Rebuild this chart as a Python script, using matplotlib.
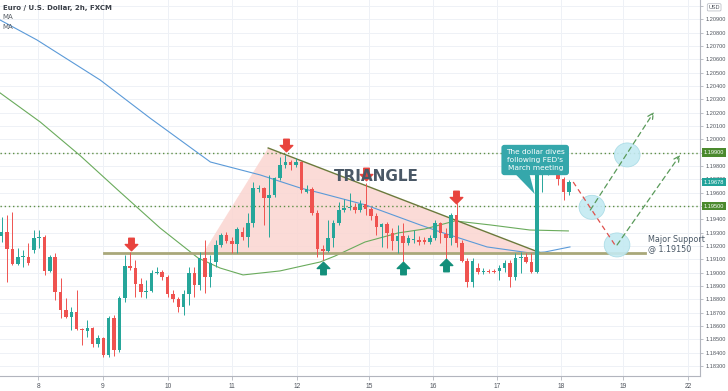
import numpy as np
import matplotlib
matplotlib.use("Agg")
import matplotlib.pyplot as plt
from matplotlib.path import Path
from matplotlib.patches import Polygon, Ellipse
import matplotlib.transforms as mtransforms

# --- data: EUR/USD 2h candles (open, high, low, close) ---
opens = [1.19275, 1.19305, 1.19178, 1.19065, 1.19118, 1.19118, 1.19170, 1.19260, 1.19268, 1.19013,
         1.19118, 1.18855, 1.18720, 1.18668, 1.18705, 1.18578, 1.18563, 1.18585, 1.18465, 1.18510,
         1.18383, 1.18660, 1.18420, 1.18810, 1.19050, 1.19035, 1.18915, 1.18855, 1.18863, 1.18998,
         1.19005, 1.18968, 1.18840, 1.18803, 1.18743, 1.18840, 1.18998, 1.18908, 1.19110, 1.18968,
         1.19080, 1.19208, 1.19283, 1.19238, 1.19215, 1.19305, 1.19268, 1.19373, 1.19628, 1.19635,
         1.19560, 1.19583, 1.19710, 1.19808, 1.19830, 1.19808, 1.19830, 1.19605, 1.19628, 1.19448,
         1.19178, 1.19163, 1.19260, 1.19373, 1.19470, 1.19485, 1.19493, 1.19470, 1.19515, 1.19478,
         1.19425, 1.19343, 1.19365, 1.19298, 1.19238, 1.19275, 1.19223, 1.19245, 1.19245, 1.19245,
         1.19230, 1.19260, 1.19373, 1.19290, 1.19260, 1.19433, 1.19223, 1.19088, 1.18930, 1.19035,
         1.19005, 1.19013, 1.19013, 1.19013, 1.19035, 1.19073, 1.18968, 1.19110, 1.19118, 1.19080,
         1.19005, 1.19755, 1.19770, 1.19778, 1.19845, 1.19703, 1.19605]
highs = [1.19418, 1.19433, 1.19455, 1.19185, 1.19170, 1.19223, 1.19320, 1.19320, 1.19283, 1.19133,
         1.19148, 1.18960, 1.18810, 1.18743, 1.18870, 1.18585, 1.18645, 1.18590, 1.18533, 1.18518,
         1.18675, 1.18683, 1.18825, 1.19133, 1.19155, 1.19095, 1.18960, 1.18945, 1.19020, 1.19043,
         1.19020, 1.18983, 1.18870, 1.18818, 1.18870, 1.19043, 1.19043, 1.19155, 1.19245, 1.19133,
         1.19245, 1.19298, 1.19305, 1.19268, 1.19343, 1.19343, 1.19448, 1.19680, 1.19658, 1.19643,
         1.19733, 1.19718, 1.19868, 1.19883, 1.19845, 1.19860, 1.19838, 1.19658, 1.19640, 1.19470,
         1.19208, 1.19395, 1.19395, 1.19530, 1.19553, 1.19598, 1.19523, 1.19545, 1.19673, 1.19493,
         1.19448, 1.19373, 1.19380, 1.19335, 1.19358, 1.19373, 1.19283, 1.19320, 1.19275, 1.19268,
         1.19283, 1.19395, 1.19380, 1.19335, 1.19448, 1.19523, 1.19245, 1.19110, 1.19110, 1.19073,
         1.19035, 1.19028, 1.19028, 1.19058, 1.19095, 1.19095, 1.19148, 1.19155, 1.19148, 1.19148,
         1.19845, 1.19868, 1.19860, 1.19883, 1.19883, 1.19718, 1.19695]
lows = [1.19230, 1.18930, 1.19058, 1.19058, 1.19043, 1.19058, 1.19148, 1.19185, 1.18983, 1.19005,
        1.18795, 1.18660, 1.18660, 1.18570, 1.18570, 1.18458, 1.18518, 1.18443, 1.18443, 1.18368,
        1.18368, 1.18375, 1.18405, 1.18780, 1.19020, 1.18818, 1.18818, 1.18810, 1.18855, 1.18990,
        1.18945, 1.18818, 1.18780, 1.18705, 1.18683, 1.18758, 1.18818, 1.18870, 1.18848, 1.18893,
        1.19043, 1.19193, 1.19223, 1.19148, 1.19148, 1.19245, 1.19193, 1.19343, 1.19605, 1.19358,
        1.19268, 1.19568, 1.19695, 1.19785, 1.19770, 1.19793, 1.19598, 1.19600, 1.19433, 1.19118,
        1.19095, 1.19155, 1.19193, 1.19358, 1.19455, 1.19470, 1.19448, 1.19455, 1.19433, 1.19395,
        1.19283, 1.19193, 1.19185, 1.19170, 1.19148, 1.19080, 1.19208, 1.19223, 1.19208, 1.19215,
        1.19215, 1.19245, 1.19223, 1.19095, 1.19208, 1.19193, 1.19080, 1.18893, 1.18893, 1.18990,
        1.18990, 1.18998, 1.18998, 1.18945, 1.19005, 1.18893, 1.18945, 1.18998, 1.19073, 1.18998,
        1.18998, 1.19605, 1.19733, 1.19770, 1.19658, 1.19545, 1.19583]
closes = [1.19305, 1.19178, 1.19065, 1.19118, 1.19125, 1.19073, 1.19260, 1.19268, 1.19013, 1.19118,
          1.18855, 1.18720, 1.18668, 1.18705, 1.18578, 1.18570, 1.18585, 1.18465, 1.18510, 1.18383,
          1.18660, 1.18420, 1.18810, 1.19050, 1.19035, 1.18915, 1.18855, 1.18863, 1.18998, 1.19005,
          1.18968, 1.18840, 1.18803, 1.18743, 1.18840, 1.18998, 1.18908, 1.19110, 1.18968, 1.19073,
          1.19208, 1.19283, 1.19238, 1.19215, 1.19328, 1.19268, 1.19373, 1.19635, 1.19635, 1.19560,
          1.19583, 1.19710, 1.19808, 1.19830, 1.19808, 1.19830, 1.19620, 1.19628, 1.19448, 1.19178,
          1.19163, 1.19260, 1.19373, 1.19470, 1.19485, 1.19493, 1.19470, 1.19515, 1.19478, 1.19425,
          1.19343, 1.19365, 1.19298, 1.19238, 1.19275, 1.19223, 1.19260, 1.19253, 1.19230, 1.19230,
          1.19260, 1.19373, 1.19298, 1.19260, 1.19433, 1.19223, 1.19088, 1.18930, 1.19088, 1.19005,
          1.19013, 1.19005, 1.19005, 1.19035, 1.19073, 1.18968, 1.19110, 1.19118, 1.19080, 1.19005,
          1.19755, 1.19785, 1.19778, 1.19845, 1.19703, 1.19605, 1.19678]

# moving averages, read at a few bar positions
ma_slow_x = [-0.3, 6.6, 18.4, 27.7, 39.0, 48.3, 55.8, 59.5, 68.0, 78.2, 82.0, 90.7, 98.7, 101.5, 106.2]
ma_slow_y = [1.20895, 1.20745, 1.20445, 1.20160, 1.19830, 1.19733, 1.19635, 1.19598, 1.19508,
             1.19358, 1.19305, 1.19193, 1.19148, 1.19155, 1.19193]
ma_fast_x = [-0.3, 7.2, 14.6, 21.7, 29.6, 36.7, 40.8, 45.1, 52.0, 59.5, 62.3, 67.9, 74.1, 79.1,
             84.7, 91.3, 98.7, 105.9]
ma_fast_y = [1.20348, 1.20130, 1.19880, 1.19620, 1.19335, 1.19110, 1.19035, 1.18983, 1.19013,
             1.19080, 1.19125, 1.19230, 1.19298, 1.19328, 1.19388, 1.19358, 1.19320, 1.19313]

# day labels on the time axis
day_labels = ['8', '9', '10', '11', '12', '15', '16', '17', '18', '19', '22']
day_pos = [6.8, 18.9, 31.1, 43.0, 55.2, 68.6, 80.6, 92.6, 104.5, 116.1, 128.3]

support = 1.19150
resistance_hi = 1.19900
resistance_lo = 1.19500
last_price = 1.19678

# triangle pattern (bar, price)
tri_x = [37.7, 49.8, 100.6]
tri_y = [1.19150, 1.19935, 1.19150]

red_arrows_x = [24.1, 53.1, 68.1, 84.9]
red_arrows_y = [1.19215, 1.19960, 1.19740, 1.19568]
green_arrows_x = [60.1, 75.0, 83.1]
green_arrows_y = [1.19035, 1.19035, 1.19058]

# projected path
red_path_x = [106.8, 114.6]
red_path_y = [1.19680, 1.19208]
green_path1_x = [110.0, 121.9]
green_path1_y = [1.19470, 1.20205]
green_path2_x = [115.0, 126.8]
green_path2_y = [1.19208, 1.19883]
zones_x = [110.3, 116.9, 115.0]
zones_y = [1.19490, 1.19883, 1.19208]

UP = '#26a69a'
DOWN = '#ef5350'
TXT = '#4a5866'
AXFONT = ['Liberation Sans Narrow', 'Liberation Sans', 'DejaVu Sans']

fig = plt.figure(figsize=(7.28, 3.91), dpi=100)
ax = fig.add_axes([0, 15 / 391, 700 / 728, 376 / 391])
ax.set_xlim(-0.32, 130.5)
ax.set_ylim(1.18225, 1.21045)

# grid
for p in np.arange(1.183, 1.2105, 0.001):
    ax.axhline(p, color='#eef1f6', lw=0.7, zorder=0)
for d in day_pos:
    ax.axvline(d, color='#eef1f6', lw=0.7, zorder=0)

# triangle
ax.add_patch(Polygon(list(zip(tri_x, tri_y)), closed=True, facecolor='#fbd3ce',
                     edgecolor='none', alpha=0.8, zorder=1))
ax.plot(tri_x[1:], tri_y[1:], color='#6b7a3c', lw=1.0, zorder=3)
ax.plot([19.1, 120.2], [support, support], color='#a9a87a', lw=2.0, zorder=3)

# horizontal levels
ax.axhline(resistance_hi, color='#5f8f45', lw=1.0, ls=(0, (1, 2)), zorder=2)
ax.axhline(resistance_lo, color='#5f8f45', lw=1.0, ls=(0, (1, 2)), zorder=2)

# moving averages
ax.plot(ma_slow_x, ma_slow_y, color='#5b9ad8', lw=0.8, zorder=2)
ax.plot(ma_fast_x, ma_fast_y, color='#6aab5c', lw=0.8, zorder=2)

# candles
for i, (o, h, l, c) in enumerate(zip(opens, highs, lows, closes)):
    col = UP if c >= o else DOWN
    ax.vlines(i, l, h, color=col, lw=0.7, zorder=4)
    body = max(abs(c - o), 0.00003)
    ax.bar(i, body, bottom=min(o, c), width=0.66, color=col, zorder=5)

# block arrows
down_arrow = Path([(-0.22, 0.5), (0.22, 0.5), (0.22, 0.0), (0.5, 0.0), (0.0, -0.5),
                   (-0.5, 0.0), (-0.22, 0.0), (-0.22, 0.5)],
                  [1, 2, 2, 2, 2, 2, 2, 79])
up_arrow = Path([(-0.22, -0.5), (0.22, -0.5), (0.22, 0.0), (0.5, 0.0), (0.0, 0.5),
                 (-0.5, 0.0), (-0.22, 0.0), (-0.22, -0.5)],
                [1, 2, 2, 2, 2, 2, 2, 79])
ax.plot(red_arrows_x, red_arrows_y, ls='none', marker=down_arrow, ms=9,
        color='#e8433d', zorder=6)
ax.plot(green_arrows_x, green_arrows_y, ls='none', marker=up_arrow, ms=9,
        color='#138f7a', zorder=6)

# projection
for zx, zy in zip(zones_x, zones_y):
    ax.add_patch(Ellipse((zx, zy), 4.8, 0.0018, facecolor='#c4eaf2',
                         edgecolor='#a8dbe6', lw=0.6, alpha=0.9, zorder=6))
ax.plot(red_path_x, red_path_y, color='#e0504c', lw=0.9, ls=(0, (4, 3)), zorder=7)
for gx, gy in [(green_path1_x, green_path1_y), (green_path2_x, green_path2_y)]:
    ax.annotate('', xy=(gx[1], gy[1]), xytext=(gx[0], gy[0]),
                arrowprops=dict(arrowstyle='->', color='#5a9a5a', lw=0.9,
                                ls=(0, (4, 3)), shrinkA=0, shrinkB=0), zorder=7)

# texts
ax.text(70.0, 1.19725, 'TRIANGLE', fontsize=11, fontweight='bold', color=TXT,
        ha='center', va='center', zorder=6)
ax.text(120.8, 1.19215, 'Major Support\n@ 1.19150', fontsize=5.8, color=TXT,
        ha='left', va='center', linespacing=1.1, zorder=6)

# callout
bub = '#35a7ab'
ax.add_patch(Polygon([(95.5, 1.19760), (98.5, 1.19760), (99.6, 1.19590)], closed=True,
                     facecolor=bub, edgecolor='none', zorder=8))
ax.text(99.7, 1.19845, "The dollar dives\nfollowing FED's\nMarch meeting", fontsize=5.3,
        color='white', ha='center', va='center', linespacing=1.35, zorder=9,
        bbox=dict(boxstyle='round,pad=0.6,rounding_size=0.4', facecolor=bub, edgecolor='none'))

ax.text(0.004, 0.988, 'Euro / U.S. Dollar, 2h, FXCM', transform=ax.transAxes, fontsize=5,
        fontweight='bold', color='#3a3f47', va='top')
ax.text(0.004, 0.962, 'MA', transform=ax.transAxes, fontsize=5, color='#5a6068', va='top')
ax.text(0.004, 0.937, 'MA', transform=ax.transAxes, fontsize=5, color='#5a6068', va='top')

# axes styling
for s in ['top', 'left']:
    ax.spines[s].set_visible(False)
for s in ['right', 'bottom']:
    ax.spines[s].set_color('#b2b5be')
    ax.spines[s].set_linewidth(0.8)
ax.yaxis.tick_right()
yt = np.arange(1.183, 1.2105, 0.001)
# labels hidden behind the price boxes are left blank
covered = [resistance_hi, resistance_lo, 1.21]
ylabels = ['' if any(abs(v - c) < 1e-6 for c in covered) else '%.5f' % v for v in yt]
ax.set_yticks(yt)
ax.set_yticklabels(ylabels, family=AXFONT)
ax.tick_params(axis='y', labelsize=4.1, labelcolor='#50555e', color='#b2b5be',
               length=2.5, width=0.6, pad=1.5)
ax.set_xticks(day_pos)
ax.set_xticklabels(day_labels, family=AXFONT)
ax.tick_params(axis='x', labelsize=4.8, labelcolor='#50555e', color='#b2b5be',
               length=3, width=0.6, pad=2)

trans = mtransforms.blended_transform_factory(ax.transAxes, ax.transData)
for val, col in [(resistance_hi, '#4b8a2e'), (resistance_lo, '#4b8a2e'), (last_price, '#22a39a')]:
    ax.text(1.005, val, '%.5f' % val, transform=trans, fontsize=4.1, color='white',
            family=AXFONT, va='center', ha='left', zorder=10, clip_on=False,
            bbox=dict(boxstyle='square,pad=0.3', facecolor=col, edgecolor='none'))
ax.text(1.012, 1.20990, 'USD', transform=trans, fontsize=4.0, color='#50555e',
        family=AXFONT, va='center', ha='left', zorder=10, clip_on=False,
        bbox=dict(boxstyle='round,pad=0.2', facecolor='white', edgecolor='#b2b5be', lw=0.5))

fig.savefig('out.png', dpi=100)
